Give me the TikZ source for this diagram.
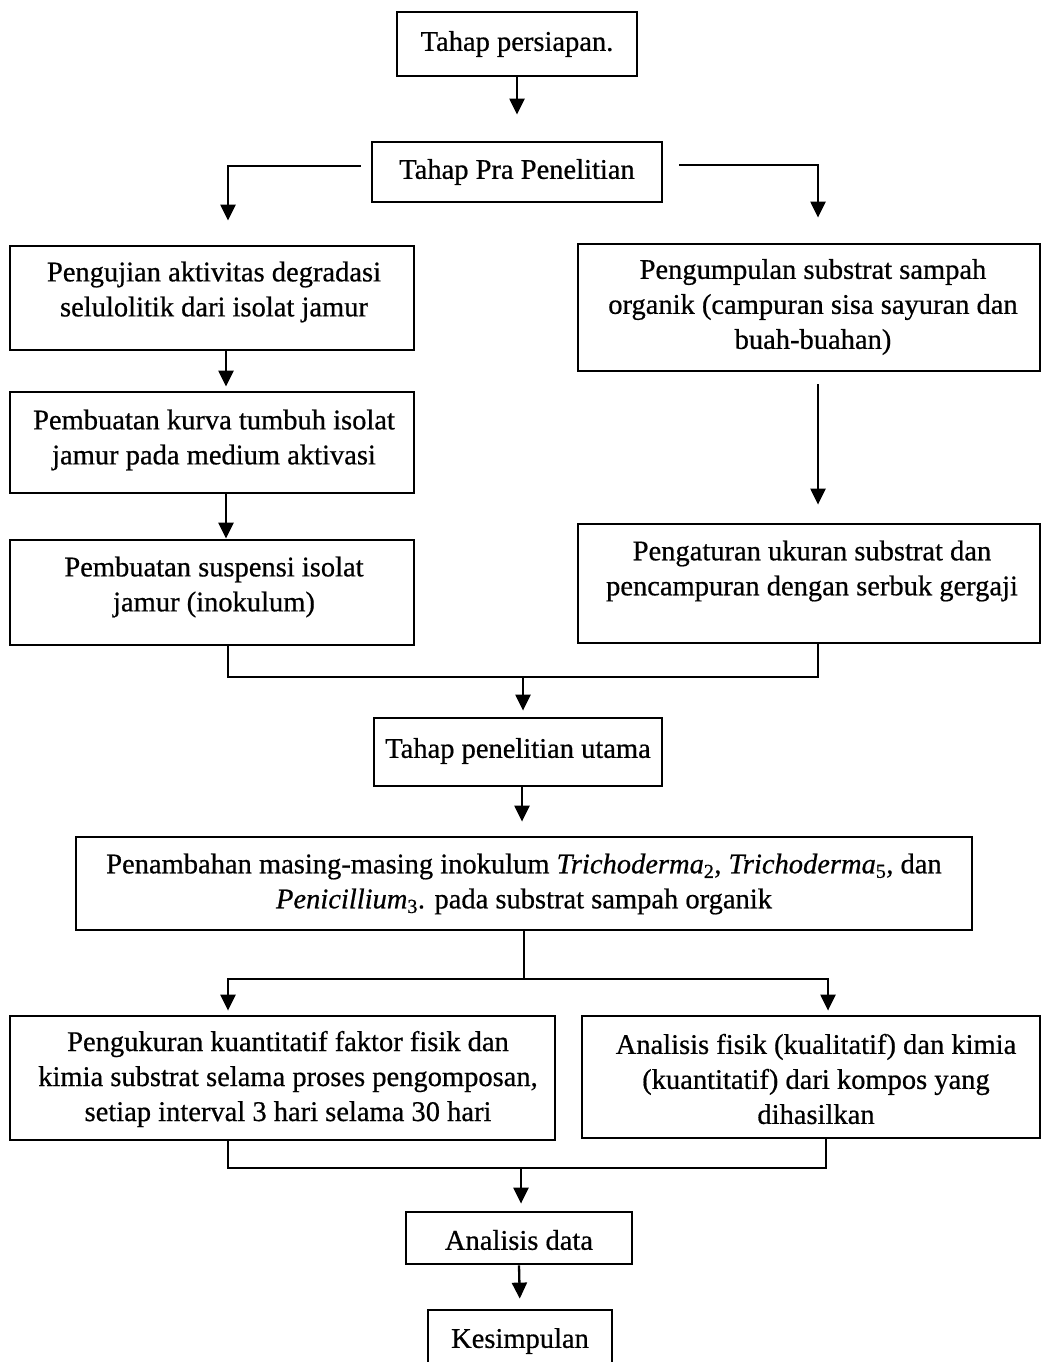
\documentclass[tikz,border=0pt]{standalone}
\usepackage{fontspec}
\setmainfont[FakeBold=0.6]{Liberation Serif}
\usetikzlibrary{arrows.meta}
\begin{document}
\begin{tikzpicture}[x=1pt,y=-1pt,
  box/.style={draw, line width=2.8pt, rectangle, inner sep=0pt},
  txt/.style={align=center, inner sep=0pt, font=\fontsize{28.5pt}{35pt}\selectfont},
  ln/.style={line width=2.3pt},
  arr/.style={line width=2.3pt, -{Triangle[length=16pt,width=15pt]}}]
\useasboundingbox (0,0) rectangle (1044,1362);
\clip (0,0) rectangle (1044,1362);
\fill[white] (0,0) rectangle (1044,1362);
% boxes
\node[box, minimum width=240pt, minimum height=64pt] (persiapan) at (517,44) {};
\node[box, minimum width=290pt, minimum height=60pt] (pra) at (517,172) {};
\node[box, minimum width=404pt, minimum height=104pt] (pengujian) at (212,298) {};
\node[box, minimum width=462pt, minimum height=127pt] (pengumpulan) at (809,307.5) {};
\node[box, minimum width=404pt, minimum height=101pt] (kurva) at (212,442.5) {};
\node[box, minimum width=404pt, minimum height=105pt] (suspensi) at (212,592.5) {};
\node[box, minimum width=462pt, minimum height=119pt] (pengaturan) at (809,583.5) {};
\node[box, minimum width=288pt, minimum height=68pt] (utama) at (518,752) {};
\node[box, minimum width=896pt, minimum height=93pt] (penambahan) at (524,883.5) {};
\node[box, minimum width=545pt, minimum height=124pt] (pengukuran) at (282.5,1078) {};
\node[box, minimum width=458pt, minimum height=122pt] (fisik) at (811,1077) {};
\node[box, minimum width=226pt, minimum height=52pt] (data) at (519,1238) {};
\node[box, minimum width=184pt, minimum height=80pt] (kesimpulan) at (520,1350) {};
% texts
\node[txt] (t1) at (517,44) {Tahap persiapan.};
\node[txt] (t2) at (517,172) {Tahap Pra Penelitian};
\node[txt] (t3) at (214,292) {Pengujian aktivitas degradasi\\selulolitik dari isolat jamur};
\node[txt] (t4) at (813,307) {Pengumpulan substrat sampah\\organik (campuran sisa sayuran dan\\buah-buahan)};
\node[txt] (t5) at (214,440) {Pembuatan kurva tumbuh isolat\\jamur pada medium aktivasi};
\node[txt] (t6) at (214,587) {Pembuatan suspensi isolat\\jamur (inokulum)};
\node[txt] (t7) at (812,571) {Pengaturan ukuran substrat dan\\pencampuran dengan serbuk gergaji};
\node[txt] (t8) at (518,751) {Tahap penelitian utama};
\node[txt] (t9) at (524,884) {Penambahan masing-masing inokulum \textit{Trichoderma}\textsubscript{2}, \textit{Trichoderma}\textsubscript{5}, dan\\\textit{Penicillium}\textsubscript{3}. pada substrat sampah organik};
\node[txt] (t10) at (288,1079) {Pengukuran kuantitatif faktor fisik dan\\kimia substrat selama proses pengomposan,\\setiap interval 3 hari selama 30 hari};
\node[txt] (t11) at (816,1079) {Analisis fisik (kualitatif) dan kimia\\(kuantitatif) dari kompos yang\\dihasilkan};
\node[txt] (t12) at (519,1240) {Analisis data};
\node[txt] (t13) at (520,1341) {Kesimpulan};
% junction coordinates
\coordinate (mj) at (523,677);
\coordinate (sj) at (524,979);
\coordinate (bj) at (521,1168);
% connectors
\draw[arr, shorten >=26pt] (persiapan.south) -- (pra.north);
\draw[arr] ([xshift=-10pt,yshift=6pt]pra.west) -| ([xshift=16pt,yshift=24pt]pengujian.north);
\draw[arr] ([xshift=16pt,yshift=7pt]pra.east) -| ([xshift=9pt,yshift=25pt]pengumpulan.north);
\draw[arr, shorten >=4pt] ([xshift=14pt]pengujian.south) -- ([xshift=14pt]kurva.north);
\draw[arr] ([xshift=14pt]kurva.south) -- ([xshift=14pt]suspensi.north);
\draw[arr] ([xshift=9pt,yshift=-12pt]pengumpulan.south) -- ([xshift=9pt,yshift=18pt]pengaturan.north);
\draw[ln] ([xshift=16pt]suspensi.south) |- (mj) -| ([xshift=9pt]pengaturan.south);
\draw[arr, shorten >=6pt] (mj) -- (mj |- utama.north);
\draw[arr, shorten >=14pt] ([xshift=4pt]utama.south) -- ([xshift=4pt]utama.south |- penambahan.north);
\draw[ln] (penambahan.south) -- (sj);
\draw[arr, shorten >=4pt] (sj) -| ([xshift=-54.5pt]pengukuran.north);
\draw[arr, shorten >=4pt] (sj) -| ([xshift=17pt]fisik.north);
\draw[ln] ([xshift=-54.5pt]pengukuran.south) |- (bj) -| ([xshift=15pt]fisik.south);
\draw[arr, shorten >=7pt] (bj) -- (bj |- data.north);
\draw[arr, shorten >=10pt] (data.south) -- (kesimpulan.north);
\end{tikzpicture}
\end{document}
